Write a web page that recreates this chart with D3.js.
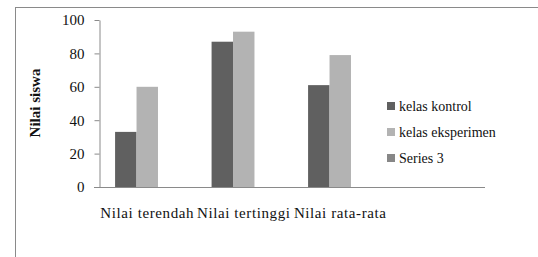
<!DOCTYPE html>
<html>
<meta charset="utf-8">
<style>
body { margin: 0; background: #fff; }
svg text { font-family: "Liberation Serif", "DejaVu Serif", serif; fill: #111; }
.axis path, .axis line { stroke: #8a8a8a; }
</style>
<body>
<svg width="538" height="257"></svg>
<script src="https://d3js.org/d3.v7.min.js"></script>
<script>
// values
var categories = ["Nilai terendah", "Nilai tertinggi", "Nilai rata-rata", ""];
var seriesNames = ["kelas kontrol", "kelas eksperimen", "Series 3"];
var kelasKontrol = [33, 87, 61, null];
var kelasEksperimen = [60, 93, 79, null];
var series3 = [null, null, null, null];
var yTicks = [0, 20, 40, 60, 80, 100];
var colors = ["#606060", "#b3b3b3", "#878787"];

var serif = "'Liberation Serif', 'DejaVu Serif', serif";
var svg = d3.select("svg");

// outer frame (only top & left visible in the crop)
svg.append("rect")
    .attr("x", 15.5).attr("y", 7.5)
    .attr("width", 700).attr("height", 400)
    .attr("fill", "none").attr("stroke", "#8a8a8a");

var plot = {left: 99, right: 485, top: 20, bottom: 187};

var x = d3.scaleBand().domain(d3.range(categories.length))
    .range([plot.left, plot.right]);
var bw = x.bandwidth();
var sub = d3.scaleBand().domain(seriesNames)
    .range([bw / 6, bw * 5 / 6]);
var y = d3.scaleLinear().domain([0, 100]).range([plot.bottom, plot.top]);

var series = [kelasKontrol, kelasEksperimen, series3];

// bars
series.forEach(function(vals, si) {
  svg.append("g").selectAll("rect")
    .data(vals.map(function(v, i) { return {i: i, v: v}; }).filter(function(d) { return d.v != null; }))
    .enter().append("rect")
      .attr("x", function(d) { return x(d.i) + sub(seriesNames[si]); })
      .attr("y", function(d) { return y(d.v); })
      .attr("width", sub.bandwidth())
      .attr("height", function(d) { return plot.bottom - y(d.v); })
      .attr("fill", colors[si]);
});

// y axis
var yAxis = svg.append("g")
    .attr("class", "axis")
    .attr("font-family", null)
    .attr("transform", "translate(" + (plot.left + 0.5) + ",0)")
    .call(d3.axisLeft(y).tickValues(yTicks).tickSize(5).tickPadding(10).tickSizeOuter(0));
yAxis.attr("font-family", serif);
yAxis.selectAll("text").style("font-size", "15px").style("font-family", serif).attr("fill", "#111");

// x axis line
svg.append("line")
    .attr("x1", plot.left - 5).attr("x2", plot.right)
    .attr("y1", plot.bottom + 0.5).attr("y2", plot.bottom + 0.5)
    .attr("stroke", "#8a8a8a");

// category labels
svg.append("g").selectAll("text")
    .data(categories)
    .enter().append("text")
      .attr("x", function(d, i) { return x(i) + x.bandwidth() / 2; })
      .attr("y", 218)
      .attr("text-anchor", "middle")
      .style("font-family", serif)
      .style("font-size", "15px")
      .style("letter-spacing", "0.6px")
      .text(function(d) { return d; });

// y title
svg.append("text")
    .attr("transform", "translate(40,103) rotate(-90)")
    .attr("text-anchor", "middle")
    .style("font-family", serif)
    .style("font-size", "15px")
    .style("font-weight", "bold")
    .text("Nilai siswa");

// legend
var legend = svg.append("g").selectAll("g")
    .data(seriesNames)
    .enter().append("g")
      .attr("transform", function(d, i) { return "translate(387," + (106 + i * 26) + ")"; });
legend.append("rect")
    .attr("x", 0).attr("y", -4).attr("width", 8).attr("height", 8)
    .attr("fill", function(d, i) { return colors[i]; });
legend.append("text")
    .attr("x", 12).attr("y", 5)
    .style("font-family", serif)
    .style("font-size", "14px")
    .text(function(d) { return d; });
</script>
</body>
</html>
